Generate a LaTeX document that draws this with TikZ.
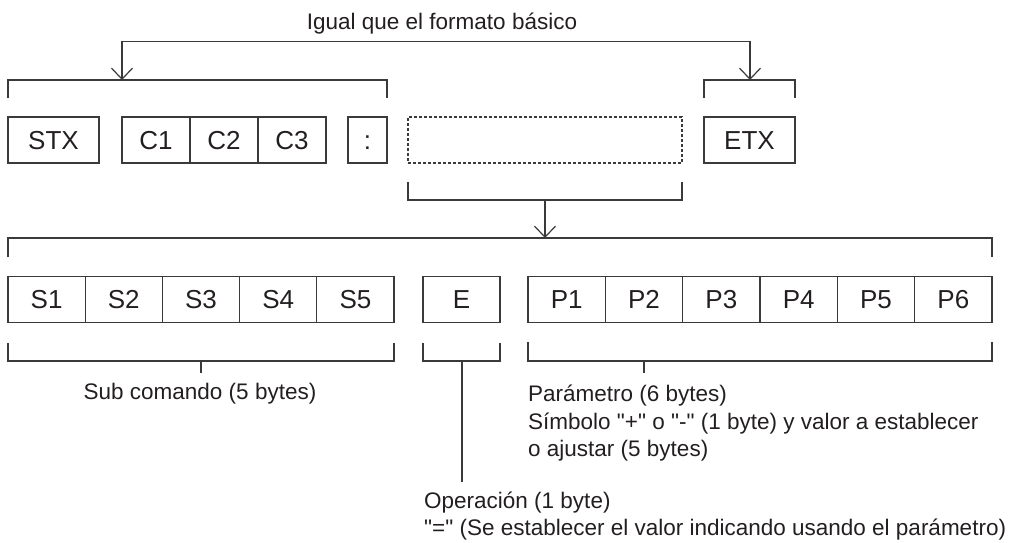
\documentclass[tikz,border=0pt]{standalone}
\usepackage{fontspec}
\setmainfont{Liberation Sans}[Ligatures=TeXOff]
\usetikzlibrary{arrows.meta}
\definecolor{ln}{HTML}{3A3A3A}
\definecolor{tx}{HTML}{231F20}
\begin{document}
\begin{tikzpicture}[x=1pt,y=-1pt,
  cell/.style={draw=ln, line width=1.2pt, minimum height=46pt, inner sep=0pt, outer sep=0pt,
    text height=18.5pt, text depth=0pt, font=\fontsize{26}{30}\selectfont, text=tx},
  dashcell/.style={cell, dash pattern=on 3pt off 2pt},
  lbl/.style={font=\fontsize{22.5}{27.5}\selectfont, text=tx, inner sep=0pt},
  br/.style={draw=ln, line width=1.2pt},
  barb/.tip={Straight Barb[length=11pt,width=21pt]},
  arr/.style={br, -barb},
  arrboth/.style={br, barb-barb}]
\useasboundingbox (0,0) rectangle (1010,543);

% title
\node[lbl, anchor=base] (title) at (442,30) {Igual que el formato básico};

% row 1
\node[cell, minimum width=91pt] (stx) at (53.5,140) {STX};
\node[cell, minimum width=68pt] (c1) at (156,140) {C1};
\node[cell, minimum width=68pt] (c2) at (224,140) {C2};
\node[cell, minimum width=68pt] (c3) at (292,140) {C3};
\node[cell, minimum width=39pt] (colon) at (367.5,140) {:};
\node[dashcell, minimum width=274pt] (dash) at (545,140) {};
\node[cell, minimum width=91pt] (etx) at (749.5,140) {ETX};

% top connector
\coordinate (tipL) at (122,80);
\coordinate (railL) at (122,41.7);
\coordinate (railR) at (750,41.7);
\coordinate (tipR) at (750,80);
\draw[arrboth] (tipL) -- (railL) -- (railR) -- (tipR);

% brackets above row 1
\draw[br] (8,98) -- (8,80) -- (387,80) -- (387,98);
\draw[br] (704,98) -- (704,80) -- (795,80) -- (795,98);

% bracket below dashed box
\draw[br] (408,182) -- (408,200) -- (682,200) -- (682,182);
\coordinate (midTop) at (545,200);
\coordinate (midTip) at (545,238);
\draw[arr] (midTop) -- (midTip);

% big bracket
\draw[br] (8,257) -- (8,238) -- (992,238) -- (992,257);

% row 2
\foreach \i/\x in {1/46.6,2/123.8,3/201,4/278.2,5/355.4}{
  \node[cell, minimum width=77.2pt] (s\i) at (\x,299.5) {S\i};
}
\node[cell, minimum width=77pt] (e) at (461.5,299.5) {E};
\foreach \i/\x in {1/566.67,2/644,3/721.33,4/798.67,5/876,6/953.33}{
  \node[cell, minimum width=77.33pt] (p\i) at (\x,299.5) {P\i};
}

% brackets below row 2
\draw[br] (8,343) -- (8,361) -- (394,361) -- (394,343);
\coordinate (sTickA) at (201,361);
\coordinate (sTickB) at (201,373);
\draw[br] (sTickA) -- (sTickB);

\draw[br] (423,343) -- (423,361) -- (500,361) -- (500,343);
\coordinate (eStemA) at (462,361);
\coordinate (eStemB) at (462,482);
\draw[br] (eStemA) -- (eStemB);

\draw[br] (528,342) -- (528,361) -- (992,361) -- (992,342);
\coordinate (pTickA) at (644,361);
\coordinate (pTickB) at (644,373);
\draw[br] (pTickA) -- (pTickB);

% labels
\node[lbl, anchor=base] (sublbl) at (200,399.5) {Sub comando (5 bytes)};
\node[lbl, anchor=base west] (par1) at (528,401) {Parámetro (6 bytes)};
\node[lbl, anchor=base west] (par2) at (528,429) {Símbolo "+" o "-" (1 byte) y valor a establecer};
\node[lbl, anchor=base west] (par3) at (528,456) {o ajustar (5 bytes)};
\node[lbl, anchor=base west] (op1) at (424,508) {Operación (1 byte)};
\node[lbl, anchor=base west] (op2) at (424,535) {"=" (Se establecer el valor indicando usando el parámetro)};
\end{tikzpicture}
\end{document}
